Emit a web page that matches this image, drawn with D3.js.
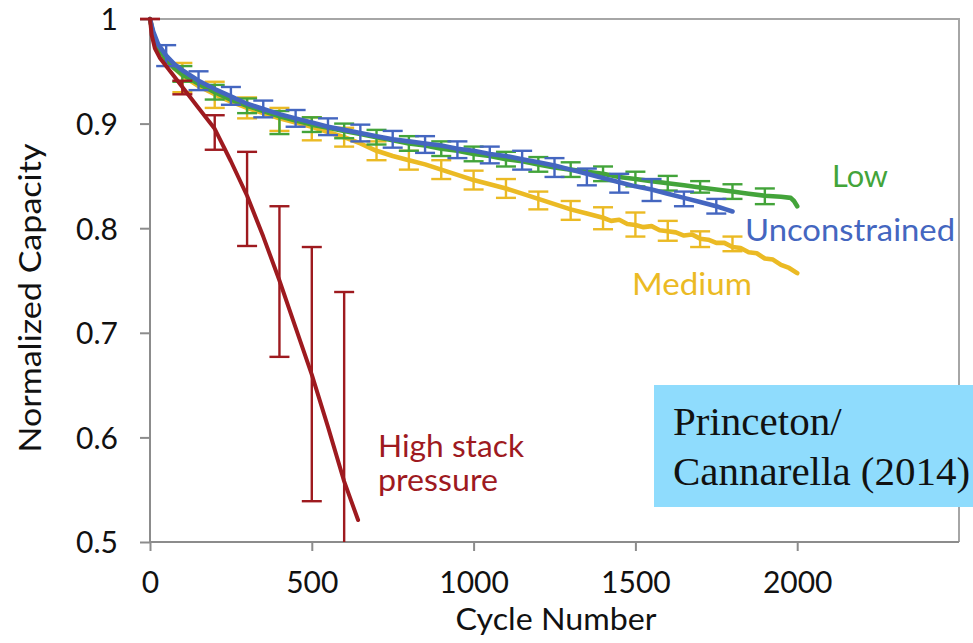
<!DOCTYPE html>
<html>
<head>
<meta charset="utf-8">
<script src="https://cdn.jsdelivr.net/npm/d3@7/dist/d3.min.js"></script>
<style>
  html, body { margin: 0; padding: 0; background: #fff; }
  svg { display: block; }
</style>
</head>
<body>
<svg id="chart" width="973" height="643"></svg>
<script>
// Capacity fade vs. cycle number for four stack-pressure conditions
const xTicks = [0, 500, 1000, 1500, 2000];
const yTicks = [0.5, 0.6, 0.7, 0.8, 0.9, 1];

// [cycle, normalized capacity]
const lowLine = [
  [0,1.000],[10,0.985],[25,0.972],[50,0.961],[75,0.953],[100,0.947],[150,0.938],[200,0.930],
  [250,0.923],[300,0.917],[350,0.912],[400,0.907],[450,0.903],[500,0.899],[550,0.896],[600,0.893],
  [650,0.890],[700,0.887],[750,0.884],[800,0.881],[850,0.879],[900,0.876],[950,0.874],[1000,0.871],
  [1050,0.869],[1100,0.866],[1150,0.864],[1200,0.861],[1250,0.858],[1300,0.856],[1350,0.854],
  [1400,0.852],[1450,0.849],[1500,0.847],[1550,0.845],[1600,0.843],[1650,0.841],[1700,0.839],
  [1750,0.837],[1800,0.835],[1850,0.833],[1900,0.831],[1950,0.830],[1980,0.829],[1990,0.826],[2000,0.821]
];
const unconstrainedLine = [
  [0,1.000],[10,0.988],[25,0.976],[50,0.965],[75,0.957],[100,0.951],[150,0.941],[200,0.933],
  [250,0.926],[300,0.919],[350,0.914],[400,0.909],[450,0.905],[500,0.901],[550,0.897],[600,0.894],
  [650,0.891],[700,0.888],[750,0.885],[800,0.883],[850,0.881],[900,0.879],[950,0.876],[1000,0.874],
  [1050,0.871],[1100,0.869],[1150,0.866],[1200,0.863],[1250,0.860],[1300,0.856],[1350,0.852],
  [1400,0.848],[1450,0.844],[1500,0.840],[1550,0.837],[1600,0.833],[1650,0.829],[1700,0.825],
  [1750,0.821],[1780,0.818],[1800,0.816]
];
const mediumLine = [
  [0,1.000],[10,0.985],[25,0.973],[50,0.962],[75,0.953],[100,0.946],[150,0.936],[200,0.928],
  [250,0.921],[300,0.915],[350,0.910],[400,0.905],[450,0.901],[500,0.897],[550,0.892],[600,0.887],
  [650,0.881],[700,0.874],[750,0.869],[800,0.865],[850,0.861],[900,0.856],[950,0.851],[1000,0.846],
  [1050,0.842],[1100,0.838],[1150,0.833],[1200,0.828],[1250,0.823],[1300,0.818],[1350,0.814],
  [1400,0.810],[1425,0.807],[1450,0.808],[1475,0.804],[1500,0.803],[1525,0.801],[1550,0.802],
  [1575,0.798],[1600,0.797],[1625,0.796],[1650,0.793],[1675,0.794],[1700,0.790],[1725,0.789],
  [1750,0.786],[1775,0.786],[1800,0.782],[1825,0.781],[1850,0.777],[1875,0.776],[1900,0.771],
  [1925,0.770],[1950,0.765],[1975,0.762],[2000,0.757]
];
const highLine = [
  [0,1.000],[5,0.985],[15,0.972],[30,0.963],[60,0.951],[100,0.935],[125,0.925],[150,0.915],
  [200,0.895],[250,0.864],[300,0.831],[350,0.792],[400,0.750],[450,0.705],[500,0.660],
  [550,0.610],[600,0.558],[643,0.521]
];

// [cycle, lower, upper]
const lowErr = [
  [100,0.940,0.955],[200,0.923,0.937],[300,0.910,0.924],[400,0.890,0.912],[500,0.892,0.906],
  [600,0.886,0.900],[700,0.880,0.894],[800,0.874,0.888],[900,0.869,0.883],[1000,0.864,0.878],
  [1100,0.859,0.873],[1200,0.854,0.868],[1300,0.849,0.863],[1400,0.845,0.859],[1500,0.840,0.854],
  [1600,0.836,0.850],[1700,0.834,0.845],[1800,0.828,0.842],[1900,0.823,0.838]
];
const unconstrainedErr = [
  [50,0.955,0.975],[150,0.932,0.950],[250,0.918,0.935],[350,0.906,0.922],[450,0.897,0.913],
  [550,0.889,0.905],[650,0.883,0.899],[750,0.877,0.893],[850,0.872,0.888],[950,0.867,0.883],
  [1050,0.862,0.878],[1150,0.856,0.874],[1250,0.849,0.867],[1350,0.841,0.857],[1450,0.834,0.852],
  [1550,0.826,0.847],[1650,0.821,0.835],[1750,0.814,0.828]
];
const mediumErr = [
  [100,0.930,0.958],[200,0.915,0.940],[300,0.905,0.925],[400,0.893,0.915],[500,0.884,0.906],
  [600,0.878,0.896],[700,0.865,0.883],[800,0.856,0.874],[900,0.847,0.865],[1000,0.837,0.855],
  [1100,0.829,0.847],[1200,0.818,0.835],[1300,0.808,0.826],[1400,0.799,0.820],[1500,0.792,0.815],
  [1600,0.788,0.807],[1700,0.782,0.797],[1800,0.778,0.792]
];
const highErr = [
  [0,1.000,1.000],[100,0.928,0.941],[200,0.875,0.908],[300,0.783,0.873],[400,0.677,0.821],
  [500,0.539,0.782],[600,0.377,0.739]
];

const colors = {
  "Low": "#43a43a",
  "Unconstrained": "#4466c0",
  "Medium": "#ebba24",
  "High stack pressure": "#9e1a1f"
};

// drawing order: later series sit on top
const series = [
  { name: "Medium", line: mediumLine, err: mediumErr, width: 4.6 },
  { name: "Low", line: lowLine, err: lowErr, width: 4.6 },
  { name: "Unconstrained", line: unconstrainedLine, err: unconstrainedErr, width: 4.6 },
  { name: "High stack pressure", line: highLine, err: highErr, width: 4 }
];

const svg = d3.select("#chart");
const plotLeft = 150, plotRight = 959, plotTop = 19, plotBottom = 542;

const x = d3.scaleLinear().domain([0, 2500]).range([plotLeft, plotRight]);
const y = d3.scaleLinear().domain([0.5, 1]).range([plotBottom, plotTop]);

const axisColor = "#8c8c8c";
const tickFont = "Lato, 'Open Sans', sans-serif";

svg.append("defs").append("clipPath").attr("id", "plot-clip")
  .append("rect").attr("x", plotLeft - 12).attr("y", plotTop - 4)
  .attr("width", plotRight - plotLeft + 12).attr("height", plotBottom - plotTop + 4);

// plot frame (top and right edges)
svg.append("path")
  .attr("d", `M${plotLeft},${plotTop}H${plotRight}V${plotBottom}`)
  .attr("fill", "none").attr("stroke", "#a6a6a6").attr("stroke-width", 2);

// axes
const yAxis = svg.append("g").attr("transform", `translate(${plotLeft},0)`)
  .call(d3.axisLeft(y).tickValues(yTicks).tickSize(10).tickPadding(22)
    .tickFormat(d => d === 1 ? "1" : d3.format(".1f")(d)));
const xAxis = svg.append("g").attr("transform", `translate(0,${plotBottom})`)
  .call(d3.axisBottom(x).tickValues(xTicks).tickSize(9).tickPadding(20)
    .tickFormat(d3.format("d")));

[yAxis, xAxis].forEach(g => {
  g.select(".domain").attr("stroke", axisColor).attr("stroke-width", 2);
  g.selectAll(".tick line").attr("stroke", axisColor).attr("stroke-width", 2);
  g.selectAll(".tick text").attr("fill", "#111").attr("font-family", tickFont)
    .attr("font-size", 30);
});
yAxis.selectAll(".tick text").attr("dy", "0.36em");
xAxis.selectAll(".tick text").attr("dy", "0.72em");
xAxis.select(".domain").attr("d", `M${plotLeft},0H${plotRight}`);
yAxis.select(".domain").attr("d", `M0,${plotBottom}V${plotTop}`);

// axis titles
svg.append("text").text("Cycle Number")
  .attr("x", 556).attr("y", 630).attr("text-anchor", "middle")
  .attr("font-family", tickFont).attr("font-size", 30).attr("fill", "#111")
  .attr("textLength", 201).attr("lengthAdjust", "spacingAndGlyphs");
svg.append("text").text("Normalized Capacity")
  .attr("transform", "translate(41,298) rotate(-90)").attr("text-anchor", "middle")
  .attr("font-family", tickFont).attr("font-size", 30).attr("fill", "#111")
  .attr("textLength", 309).attr("lengthAdjust", "spacingAndGlyphs");

// data
const plot = svg.append("g").attr("clip-path", "url(#plot-clip)");
const line = d3.line().x(d => x(d[0])).y(d => y(d[1]));
const cap = 10;

series.forEach(s => {
  const c = colors[s.name];
  const g = plot.append("g");
  const bars = g.selectAll("g.err").data(s.err).join("g").attr("class", "err")
    .attr("stroke", c).attr("stroke-width", 2.4).attr("fill", "none");
  bars.append("line")
    .attr("x1", d => x(d[0])).attr("x2", d => x(d[0]))
    .attr("y1", d => y(d[1])).attr("y2", d => y(d[2]));
  bars.append("line")
    .attr("x1", d => x(d[0]) - cap).attr("x2", d => x(d[0]) + cap)
    .attr("y1", d => y(d[1])).attr("y2", d => y(d[1]));
  bars.append("line")
    .attr("x1", d => x(d[0]) - cap).attr("x2", d => x(d[0]) + cap)
    .attr("y1", d => y(d[2])).attr("y2", d => y(d[2]));
  g.append("path").datum(s.line).attr("d", line)
    .attr("fill", "none").attr("stroke", c).attr("stroke-width", s.width)
    .attr("stroke-linejoin", "round").attr("stroke-linecap", "round");
});

// series labels
const labelFont = "Lato, 'Open Sans', sans-serif";
const labels = [
  { text: "Low", name: "Low", x: 832, y: 187, len: 56 },
  { text: "Unconstrained", name: "Unconstrained", x: 745, y: 241, len: 210 },
  { text: "Medium", name: "Medium", x: 632, y: 295, len: 120 },
  { text: "High stack", name: "High stack pressure", x: 378, y: 457, len: 146 },
  { text: "pressure", name: "High stack pressure", x: 378, y: 491, len: 120 }
];
svg.selectAll("text.series-label").data(labels).join("text")
  .attr("class", "series-label")
  .attr("x", d => d.x).attr("y", d => d.y).text(d => d.text)
  .attr("fill", d => colors[d.name]).attr("font-family", labelFont).attr("font-size", 30)
  .attr("textLength", d => d.len).attr("lengthAdjust", "spacingAndGlyphs");

// source box
svg.append("rect").attr("x", 654).attr("y", 385).attr("width", 330).attr("height", 122)
  .attr("fill", "#8fdcfd");
svg.append("text").attr("x", 673).attr("y", 435).text("Princeton/")
  .attr("font-family", "'Liberation Serif', 'Times New Roman', serif").attr("font-size", 41)
  .attr("fill", "#111");
svg.append("text").attr("x", 673).attr("y", 485).text("Cannarella (2014)")
  .attr("font-family", "'Liberation Serif', 'Times New Roman', serif").attr("font-size", 41)
  .attr("fill", "#111");
</script>
</body>
</html>
